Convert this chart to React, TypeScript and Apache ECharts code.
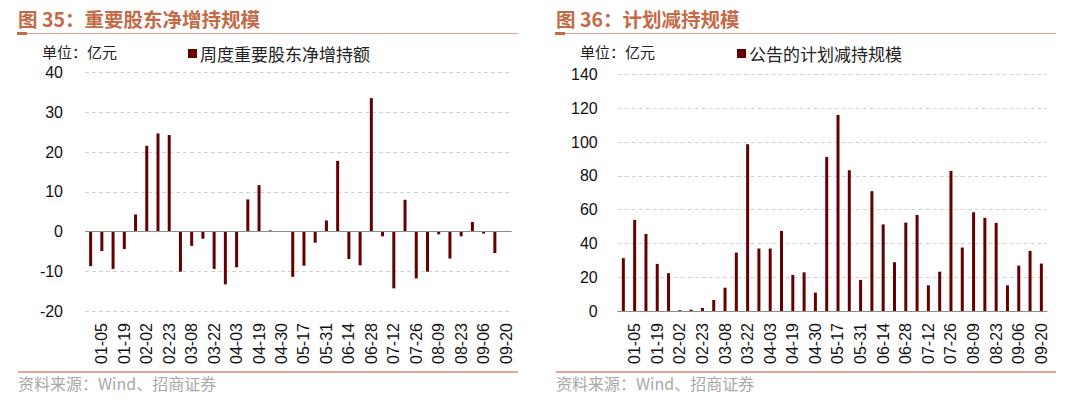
import React, { useEffect, useRef } from "react";
import * as echarts from "echarts";

const categories = [
  "12-29", "01-05", "01-12", "01-19", "01-26", "02-02", "02-09", "02-23", "03-01", "03-08",
  "03-15", "03-22", "03-29", "04-03", "04-12", "04-19", "04-26", "04-30", "05-10", "05-17",
  "05-24", "05-31", "06-07", "06-14", "06-21", "06-28", "07-05", "07-12", "07-19", "07-26",
  "08-02", "08-09", "08-16", "08-23", "08-30", "09-06", "09-13", "09-20",
];

const netIncrease = [
  -8.7, -4.9, -9.4, -4.4, 4.3, 21.6, 24.7, 24.3, -10.1, -3.6,
  -1.8, -9.4, -13.3, -9.0, 8.1, 11.7, 0.3, 0, -11.4, -8.6,
  -2.8, 2.8, 17.8, -6.9, -8.5, 33.6, -1.2, -14.3, 8.0, -11.8,
  -10.1, -0.7, -6.8, -1.2, 2.4, -0.5, -5.4, 0,
];

const plannedReduction = [
  31.3, 54.0, 45.6, 27.9, 22.4, 0.5, 0.8, 1.8, 6.5, 13.8,
  34.6, 98.8, 37.0, 37.0, 47.4, 21.4, 22.9, 10.9, 91.2, 116.2,
  83.4, 18.4, 71.0, 51.3, 28.9, 52.4, 56.9, 15.2, 23.3, 83.0,
  37.6, 58.5, 55.2, 52.2, 15.2, 26.9, 35.6, 28.1,
];

const leftTitle = "图 35：重要股东净增持规模";
const rightTitle = "图 36：计划减持规模";
const leftSeriesName = "周度重要股东净增持额";
const rightSeriesName = "公告的计划减持规模";
const unitText = "单位：亿元";
const sourceText = "资料来源：Wind、招商证券";

const FONT = "'Liberation Sans', Arial, 'Noto Sans CJK SC', sans-serif";
const BAR = "#650000";
const TITLE = "#C46A47";
const RULE = "#DDA58F";
const SRC_RULE = "#D98A70";

function makeXAxis(gridIndex: number) {
  return {
    type: "category",
    gridIndex,
    data: categories,
    boundaryGap: true,
    axisTick: { show: false },
    axisLine: gridIndex === 0 ? { show: false, onZero: false } : { show: true, onZero: false, lineStyle: { color: "#8c8c8c", width: 1.2 } },
    axisLabel: {
      rotate: 90,
      interval: (i: number) => i % 2 === 1,
      margin: 12,
      fontSize: 16,
      color: "#111",
      fontFamily: FONT,
    },
  };
}

function makeYAxis(gridIndex: number, min: number, max: number, interval: number, margin: number) {
  return {
    type: "value",
    gridIndex,
    min,
    max,
    interval,
    axisLine: { show: false },
    axisTick: { show: false },
    axisLabel: { fontSize: 16, color: "#111", margin, fontFamily: FONT },
    splitLine: { show: true, lineStyle: { color: "#d2d2d2", type: [4, 3], width: 1 } },
  };
}

export default function App() {
  const ref = useRef<HTMLDivElement>(null);
  useEffect(() => {
    if (!ref.current) return;
    const chart = echarts.init(ref.current, undefined, { renderer: "svg" });
    const panel = (x0: number, title: string, unitX: number) => [
      {
        type: "text",
        left: x0,
        top: 9,
        style: { text: title, fill: TITLE, font: `bold 19.5px 'Noto Sans CJK SC', sans-serif` },
      },
      {
        type: "line",
        shape: { x1: x0, y1: 33.5, x2: x0 + 500, y2: 33.5 },
        style: { stroke: RULE, lineWidth: 1 },
      },
      {
        type: "rect",
        shape: { x: x0 - 1, y: 32, width: 10, height: 3 },
        style: { fill: TITLE },
      },
      {
        type: "text",
        left: unitX,
        top: 44,
        style: { text: unitText, fill: "#222", font: `15px 'Noto Sans CJK SC', sans-serif` },
      },
      {
        type: "line",
        shape: { x1: x0, y1: 372, x2: x0 + 500, y2: 372 },
        style: { stroke: SRC_RULE, lineWidth: 1.5 },
      },
      {
        type: "text",
        left: x0,
        top: 375,
        style: { text: sourceText, fill: "#a8a8a8", font: `16px 'Noto Sans CJK SC', sans-serif` },
      },
    ];
    chart.setOption({
      animation: false,
      backgroundColor: "#fff",
      grid: [
        { left: 85, top: 72.7, width: 426.7, height: 238.3 },
        { left: 617.7, top: 74.7, width: 429.3, height: 236.3 },
      ],
      legend: [
        {
          data: [leftSeriesName],
          left: 183,
          top: 40,
          icon: "rect",
          itemWidth: 9,
          itemHeight: 9,
          textStyle: { fontSize: 17, color: "#222", fontFamily: "'Noto Sans CJK SC', sans-serif", padding: [0, 0, 0, -2] },
        },
        {
          data: [rightSeriesName],
          left: 732,
          top: 40,
          icon: "rect",
          itemWidth: 9,
          itemHeight: 9,
          textStyle: { fontSize: 17, color: "#222", fontFamily: "'Noto Sans CJK SC', sans-serif", padding: [0, 0, 0, -2] },
        },
      ],
      xAxis: [makeXAxis(0), makeXAxis(1)],
      yAxis: [makeYAxis(0, -20, 40, 10, 22), makeYAxis(1, 0, 140, 20, 20)],
      series: [
        {
          name: leftSeriesName,
          type: "bar",
          xAxisIndex: 0,
          yAxisIndex: 0,
          data: netIncrease,
          barWidth: 3,
          itemStyle: { color: BAR },
          markLine: {
            silent: true,
            symbol: "none",
            label: { show: false },
            lineStyle: { color: "#8c8c8c", type: "solid", width: 1.2 },
            data: [{ yAxis: 0 }],
          },
        },
        {
          name: rightSeriesName,
          type: "bar",
          xAxisIndex: 1,
          yAxisIndex: 1,
          data: plannedReduction,
          barWidth: 3,
          itemStyle: { color: BAR },
        },
      ],
      graphic: [...panel(18, leftTitle, 42), ...panel(556, rightTitle, 580)],
    });
    return () => chart.dispose();
  }, []);
  return (
    <div
      ref={ref}
      style={{ position: "fixed", left: 0, top: 0, width: 1080, height: 399, background: "#fff" }}
    />
  );
}
